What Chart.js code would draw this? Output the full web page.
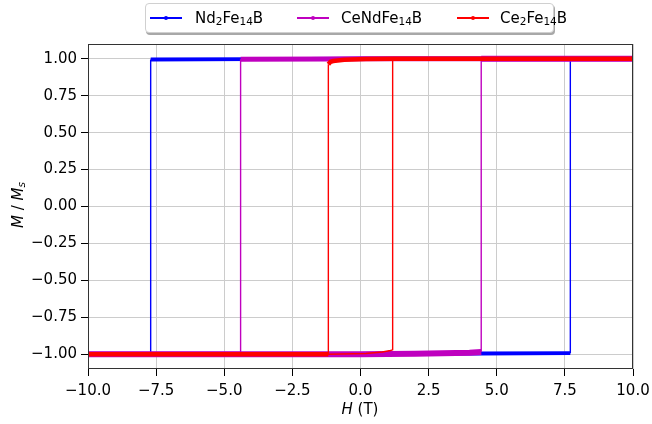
<!DOCTYPE html>
<html>
<head>
<meta charset="utf-8">
<script src="https://cdn.jsdelivr.net/npm/chart.js@4.4.1/dist/chart.umd.min.js"></script>
<style>
  body { margin: 0; background: #fff; font-family: 'DejaVu Sans', sans-serif; }
  #wrap { position: relative; width: 652px; height: 424px; overflow: hidden; }
  sub { font-size: 70%; vertical-align: -0.22em; line-height: 0; }
  .legend { position: absolute; left: 145px; top: 3px; width: 407px; height: 28px;
            border: 1px solid #d0d0d0; border-radius: 4px; background: #fff;
            box-shadow: 1px 2px 0 #a8a8a8; }
  .entry { position: absolute; top: 0; height: 28px; font-size: 15px; line-height: 28px; color: #000; white-space: nowrap; }
  .handle { position: absolute; top: 13px; width: 32px; height: 1.5px; }
  .handle span { position: absolute; left: 14px; top: -1.5px; width: 4px; height: 4px; border-radius: 2px; }
  .label { position: absolute; }
  #xtitle { position: absolute; left: 310px; width: 100px; top: 400px; text-align: center; font-size: 15px; }
  #ytitle { position: absolute; left: -32px; top: 196px; width: 100px; text-align: center; font-size: 15px; transform: rotate(-90deg); }
</style>
</head>
<body>
<div id="wrap">
  <canvas id="chart" width="652" height="424"></canvas>
  <div class="legend">
    <div class="entry" style="left:4px">
      <div class="handle" style="left:0;background:#0000ff"><span style="background:#0000ff"></span></div>
      <div class="label" style="left:45px">Nd<sub>2</sub>Fe<sub>14</sub>B</div>
    </div>
    <div class="entry" style="left:151px">
      <div class="handle" style="left:0;background:#bf00bf"><span style="background:#bf00bf"></span></div>
      <div class="label" style="left:44px">CeNdFe<sub>14</sub>B</div>
    </div>
    <div class="entry" style="left:311px">
      <div class="handle" style="left:0;background:#ff0000"><span style="background:#ff0000"></span></div>
      <div class="label" style="left:43px">Ce<sub>2</sub>Fe<sub>14</sub>B</div>
    </div>
  </div>
  <div id="xtitle"><i>H</i> (T)</div>
  <div id="ytitle"><i>M</i> / <i>M</i><sub><i>s</i></sub></div>
</div>
<script>
// tick values
const xTicks = [-10, -7.5, -5, -2.5, 0, 2.5, 5, 7.5, 10];
const yTicks = [-1, -0.75, -0.5, -0.25, 0, 0.25, 0.5, 0.75, 1];

// Nd2Fe14B loop (field H in T, reduced magnetisation M/Ms)
const ndDownH = [10, 5, 0, -4, -7.7, -7.7, -10];
const ndDownM = [1.0, 1.0, 1.0, 0.998, 0.995, -1.0, -1.0];
const ndUpH = [-10, -4, 0, 4.4, 7.7, 7.7, 10];
const ndUpM = [-1.0, -1.0, -0.998, -0.995, -0.993, 1.0, 1.0];

// CeNdFe14B loop
const cendDownH = [10, 4.4, 0, -1.2, -4.4, -4.4, -10];
const cendDownM = [1.0, 1.0, 1.0, 0.999, 0.996, -1.0, -1.0];
const cendUpH = [-10, -4.4, -1.2, 0, 2, 4.0, 4.43, 4.43, 10];
const cendUpM = [-1.0, -1.0, -1.0, -1.0, -0.997, -0.99, -0.985, 1.0, 1.0];

// Ce2Fe14B loop
const ceDownH = [10, 4.4, 1.2, 0.2, -0.6, -1.0, -1.1, -1.18, -1.18, -10];
const ceDownM = [1.0, 1.0, 1.0, 0.998, 0.993, 0.985, 0.98, 0.963, -1.0, -1.0];
const ceUpH = [-10, -1.18, 0.2, 0.8, 1.1, 1.18, 1.18, 10];
const ceUpM = [-1.0, -1.0, -0.995, -0.985, -0.975, -0.97, 1.0, 1.0];

const toPts = (hs, ms) => hs.map((h, i) => ({ x: h, y: ms[i] }));
const minus = s => s.replace('-', '\u2212');

function branch(hs, ms, color, width) {
  return {
    data: toPts(hs, ms),
    borderColor: color,
    backgroundColor: color,
    showLine: true,
    pointRadius: 0,
    borderWidth: width,
    segment: {
      borderWidth: ctx => ctx.p0.parsed.x === ctx.p1.parsed.x ? 1.4 : width
    }
  };
}

const frame = {
  id: 'frame',
  afterDatasetsDraw(chart) {
    const { ctx, chartArea: a } = chart;
    ctx.save();
    ctx.strokeStyle = '#333';
    ctx.lineWidth = 1;
    ctx.strokeRect(Math.round(a.left) + 0.5, Math.round(a.top) + 0.5,
                   Math.round(a.right - a.left) - 1, Math.round(a.bottom - a.top) - 1);
    ctx.restore();
  }
};

const tickFont = { family: 'DejaVu Sans', size: 15 };

new Chart(document.getElementById('chart'), {
  type: 'scatter',
  data: {
    datasets: [
      branch(ceUpH, ceUpM, '#ff0000', 1.4),
      branch(ceDownH, ceDownM, '#ff0000', 4.5),
      branch(cendUpH, cendUpM, '#bf00bf', 6),
      branch(cendDownH, cendDownM, '#bf00bf', 5),
      branch(ndUpH, ndUpM, '#0000ff', 3.8),
      branch(ndDownH, ndDownM, '#0000ff', 3.8)
    ]
  },
  options: {
    responsive: false,
    animation: false,
    layout: { padding: { top: 44, right: 19, left: 0, bottom: 0 } },
    plugins: { legend: { display: false }, tooltip: { enabled: false } },
    scales: {
      x: {
        type: 'linear', min: -10, max: 10,
        afterFit: s => { s.height = 55; s.paddingLeft = 0; s.paddingRight = 0; },
        afterBuildTicks: s => { s.ticks = xTicks.map(v => ({ value: v })); },
        grid: { color: '#cccccc', tickColor: '#000', tickLength: 7, lineWidth: 1 },
        border: { display: false },
        ticks: { color: '#000', font: tickFont, padding: 6, maxRotation: 0,
                 callback: v => minus(v.toFixed(1)) }
      },
      y: {
        type: 'linear', min: -1.1, max: 1.1,
        afterFit: s => { s.width = 88; },
        afterBuildTicks: s => { s.ticks = yTicks.map(v => ({ value: v })); },
        grid: { color: '#cccccc', tickColor: '#000', tickLength: 7, lineWidth: 1 },
        border: { display: false },
        ticks: { color: '#000', font: tickFont, padding: 4,
                 callback: v => minus(v.toFixed(2)) }
      }
    }
  },
  plugins: [frame]
});
</script>
</body>
</html>
